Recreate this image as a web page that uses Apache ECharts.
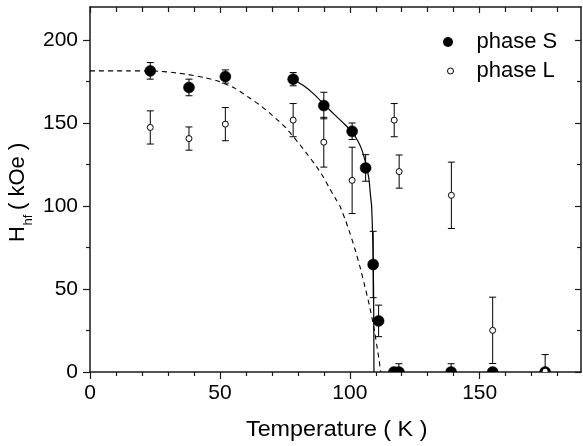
<!DOCTYPE html>
<html><head><meta charset="utf-8">
<script src="https://cdn.jsdelivr.net/npm/echarts@6/dist/echarts.min.js"></script>
<style>html,body{margin:0;padding:0;background:#fff}#c{width:583px;height:446px}</style>
</head><body><div id="c"></div>
<script>
// [temperature K, Hhf kOe, error kOe]
const phaseS = [
  [23.2,181.5,5],[38.1,171.5,5],[52.1,178.1,4],[78.2,176.5,4],[90.0,160.6,8],
  [100.9,145.1,5],[106.1,123.0,8],[109.0,64.8,20],[111.1,30.8,9.5],
  [117.0,0,0],[118.9,0,5],[139.0,0,5],[155.0,0,2],[175.2,0,0]
];
const phaseL = [
  [23.2,147.4,10],[38.1,140.7,7],[52.1,149.4,10],[78.2,151.8,10],[90.0,138.5,15],
  [100.9,115.5,20],[117.1,151.8,10],[119.0,120.8,10],[139.1,106.5,20],
  [155.0,25.1,20],[175.2,0.5,10]
];
// fit curves
const fitSolid = [
  [78.2,176.5],[82,172.8],[86,167.8],[90,161.5],[94,155.3],[98,149.3],[101,144.3],
  [103,139.5],[104.5,134.5],[105.7,128.5],[106.7,122],[107.4,116],[108,106],
  [108.4,100],[108.8,82],[109,68],[109.15,50],[109.25,25],[109.3,0]
];
const fitDashed = [
  [0,181.5],[15,181.5],[22,181.5],[27,181.2],[32,180.5],[37,179.5],[44,177.5],
  [50,175],[56,170.8],[61.6,165],[65.5,160.8],[69.2,156],[72.5,151.5],[75.6,146.8],
  [78.2,142],[80.8,137],[84,130.5],[87.2,123.8],[90,117],[92.3,110.5],[94.5,104.5],
  [96.2,100],[98.2,92],[100,84],[102,74],[103.9,63.5],[105.5,53.5],[107.1,43.2],
  [108.5,33],[109.7,23],[110.6,14],[111.3,7],[111.9,0]
];
const xTicks = [0,50,100,150];
const xMinorTicks = [10,20,30,40,60,70,80,90,110,120,130,140,160,170,180];
const yTicks = [0,50,100,150,200];
const yMinorTicks = [25,75,125,175];
const xRange = [0,189];
const yRange = [0,220];
const xTitle = 'Temperature ( K )';
const yTitleMain = 'H';
const yTitleSub = 'hf';
const yTitleUnit = '( kOe )';
const seriesNames = ['phase S','phase L'];

const FONT = 'Liberation Sans, Arial, Helvetica, sans-serif';
const AX = '#1a1a1a';

function xAxisDef(pos, ticks, len, inside, labels, line) {
  return {
    type:'value', gridIndex:0, position:pos, min:xRange[0], max:xRange[1],
    axisLine:{show:line, onZero:false, lineStyle:{color:AX, width:1.5}},
    axisTick:{show:true, inside:inside, length:len, customValues:ticks, lineStyle:{color:AX, width:1.2}},
    axisLabel:{show:labels, customValues:ticks, margin:11, fontSize:21, fontFamily:FONT, color:'#000'},
    splitLine:{show:false}
  };
}
function yAxisDef(pos, ticks, len, inside, labels, line) {
  return {
    type:'value', gridIndex:0, position:pos, min:yRange[0], max:yRange[1],
    axisLine:{show:line, onZero:false, lineStyle:{color:AX, width:1.5}},
    axisTick:{show:true, inside:inside, length:len, customValues:ticks, lineStyle:{color:AX, width:1.2}},
    axisLabel:{show:labels, customValues:ticks, margin:12, fontSize:21, fontFamily:FONT, color:'#000'},
    splitLine:{show:false}
  };
}

function pointRenderer(filled, r) {
  return function (params, api) {
    const x = api.value(0), y = api.value(1), e = api.value(2);
    const c = api.coord([x, y]);
    const children = [];
    if (e > 0) {
      const t = api.coord([x, y + e]), b = api.coord([x, y - e]);
      const ls = {stroke:'#000', lineWidth:1};
      children.push({type:'line', shape:{x1:c[0], y1:t[1], x2:c[0], y2:b[1]}, style:ls});
      children.push({type:'line', shape:{x1:c[0]-3.5, y1:t[1], x2:c[0]+3.5, y2:t[1]}, style:ls});
      children.push({type:'line', shape:{x1:c[0]-3.5, y1:b[1], x2:c[0]+3.5, y2:b[1]}, style:ls});
    }
    children.push({type:'circle', shape:{cx:c[0], cy:c[1], r:r},
      style: filled ? {fill:'#000', stroke:'#000', lineWidth:0.5} : {fill:'#fff', stroke:'#000', lineWidth:1}});
    return {type:'group', children};
  };
}

const chart = echarts.init(document.getElementById('c'), null, {renderer:'canvas'});
chart.setOption({
  animation:false,
  backgroundColor:'#fff',
  grid:{left:90, right:2, top:7, bottom:74, containLabel:false},
  xAxis:[
    xAxisDef('bottom', xTicks, 7, false, true, true),
    xAxisDef('bottom', xMinorTicks, 4, false, false, false),
    xAxisDef('top', xTicks, 6, true, false, true),
    xAxisDef('top', xMinorTicks, 5, true, false, false)
  ],
  yAxis:[
    yAxisDef('left', yTicks, 7, false, true, true),
    yAxisDef('left', yMinorTicks, 4, false, false, false),
    yAxisDef('right', yTicks, 6, true, false, true),
    yAxisDef('right', yMinorTicks, 4, true, false, false)
  ],
  legend:[
    {data:[{name:seriesNames[0], icon:'circle', itemStyle:{color:'#000', borderWidth:0}}],
     left:443, top:31, padding:0, itemWidth:47, itemHeight:10, selectedMode:false,
     textStyle:{fontSize:22, fontFamily:FONT, color:'#000'}},
    {data:[{name:seriesNames[1], icon:'circle', itemStyle:{color:'#fff', borderColor:'#000', borderWidth:1}}],
     left:447, top:60, padding:0, itemWidth:42, itemHeight:6, selectedMode:false,
     textStyle:{fontSize:22, fontFamily:FONT, color:'#000'}}
  ],
  series:[
    {type:'line', name:'fit dashed', data:fitDashed, showSymbol:false, smooth:0.2, clip:true,
     lineStyle:{color:'#000', width:1.1, type:[5,4]}, z:1},
    {type:'line', name:'fit solid', data:fitSolid, showSymbol:false, smooth:0.2, clip:true,
     lineStyle:{color:'#000', width:1.2}, z:1},
    {type:'custom', name:seriesNames[0], data:phaseS, renderItem:pointRenderer(true, 5.5), clip:true,
     itemStyle:{color:'#000'}, encode:{x:0, y:1}, z:3},
    {type:'custom', name:seriesNames[1], data:phaseL, renderItem:pointRenderer(false, 3), clip:true,
     itemStyle:{color:'#fff', borderColor:'#000'}, encode:{x:0, y:1}, z:4}
  ],
  graphic:[
    {type:'text', x:336.7, y:430, scaleX:1.06, style:{text:xTitle, fontSize:22, fontFamily:FONT, fill:'#000',
      align:'center', verticalAlign:'middle', textAlign:'center', textVerticalAlign:'middle'}},
    {type:'group', x:17.5, y:242, rotation:Math.PI/2, children:[
      {type:'text', x:0, y:0, style:{text:yTitleMain, fontSize:22, fontFamily:FONT, fill:'#000',
        align:'left', verticalAlign:'middle', textAlign:'left', textVerticalAlign:'middle'}},
      {type:'text', x:16.5, y:11, style:{text:yTitleSub, fontSize:13, fontFamily:FONT, fill:'#000',
        align:'left', verticalAlign:'middle', textAlign:'left', textVerticalAlign:'middle'}},
      {type:'text', x:32, y:0, style:{text:yTitleUnit, fontSize:22, fontFamily:FONT, fill:'#000',
        align:'left', verticalAlign:'middle', textAlign:'left', textVerticalAlign:'middle'}}
    ]}
  ]
});
</script>
</body></html>
